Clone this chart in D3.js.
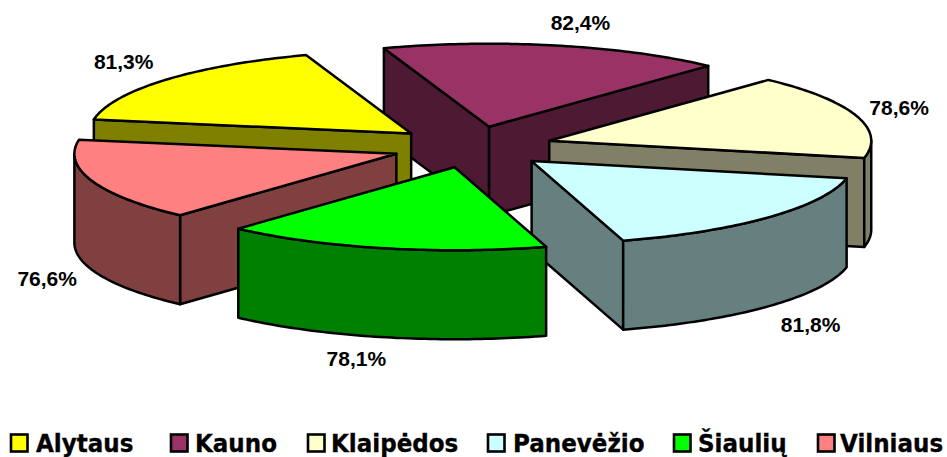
<!DOCTYPE html>
<html><head><meta charset="utf-8">
<script src="https://cdn.jsdelivr.net/npm/d3@7"></script>
<style>html,body{margin:0;padding:0;background:#fff;overflow:hidden}svg{display:block}</style>
</head><body><svg id="c" width="947" height="457"></svg>
<script>
const categories = ["Alytaus","Kauno","Klaipėdos","Panevėžio","Šiaulių","Vilniaus"];
const values = [81.3,82.4,78.6,81.8,78.1,76.6];
const valueLabels = ["81,3%","82,4%","78,6%","81,8%","78,1%","76,6%"];
const topColors = ["#FFFF00","#993366","#FFFFCC","#CCFFFF","#00FF00","#FF8080"];
const sideColors = ["#808000","#4D1933","#808066","#668080","#008000","#804040"];
const legendSwatchX = [10,170,307,487,673,817];
const legendTextX = [36,195,331,513,698,840];
const labelNudgeX = [-2,4,-2,3,-5,0];
const labelNudgeY = [0,2,2,-1,-3,-2];

const W=947,H=457, cx=472.5, cy=147, rx=322, ry=83, depth=89, explode=0.25, startDeg=-80.2;
const rad=Math.PI/180;
const sx=d3.scaleLinear().domain([-1,1]).range([-rx,rx]);
const sy=d3.scaleLinear().domain([-1,1]).range([-ry,ry]);
const svg=d3.select("#c");
const pie=d3.pie().sort(null).startAngle(startDeg*rad).endAngle((startDeg+360)*rad);
const arcs=pie(values).map((d,i)=>{
  const mid=(d.startAngle+d.endAngle)/2;
  return {...d,i,mid,ax:cx+sx(explode*Math.sin(mid)),ay:cy+sy(-explode*Math.cos(mid))};
});
const pt=(d,t,z=0)=>[d.ax+sx(Math.sin(t)),d.ay+sy(-Math.cos(t))+z];
const samples=(t0,t1)=>{const n=Math.max(2,Math.ceil((t1-t0)/rad));return d3.range(n+1).map(k=>t0+(t1-t0)*k/n);};
const line=d3.line();
const stroke={stroke:"#000","stroke-width":2.5,"stroke-linejoin":"round"};
function draw(p,fill){
  const e=svg.append("path").attr("d",line(p)+"Z").attr("fill",fill);
  Object.entries(stroke).forEach(([k,v])=>e.attr(k,v));
}
arcs.slice().sort((a,b)=>a.ay-b.ay).forEach(d=>{
  const c=sideColors[d.i], t0=d.startAngle,t1=d.endAngle, A=[d.ax,d.ay];
  const cut=t=>[A,pt(d,t),pt(d,t,depth),[d.ax,d.ay+depth]];
  if(Math.sin(t0)<0) draw(cut(t0),c);
  if(Math.sin(t1)>0) draw(cut(t1),c);
  const w0=Math.max(t0,Math.PI/2), w1=Math.min(t1,Math.PI*1.5);
  if(w1>w0){
    const s=samples(w0,w1);
    draw(s.map(t=>pt(d,t)).concat(s.slice().reverse().map(t=>pt(d,t,depth))),c);
  }
  draw([A].concat(samples(t0,t1).map(t=>pt(d,t))),topColors[d.i]);
});
// data labels
const spow=(v,p)=>Math.sign(v)*Math.pow(Math.abs(v),p);
svg.append("g").selectAll("text").data(arcs).join("text")
  .attr("font-family","'Liberation Sans',Arial,sans-serif").attr("font-weight","bold").attr("font-size",21)
  .attr("fill","#000").attr("text-anchor","middle").attr("dominant-baseline","central")
  .attr("x",d=>pt(d,d.mid)[0]+46*spow(Math.sin(d.mid),.5)+labelNudgeX[d.i])
  .attr("y",d=>pt(d,d.mid,Math.cos(d.mid)<0?depth:0)[1]-25*spow(Math.cos(d.mid),.75)+labelNudgeY[d.i])
  .text(d=>valueLabels[d.i]);
// legend
const lg=svg.append("g");
categories.forEach((n,i)=>{
  lg.append("rect").attr("x",legendSwatchX[i]+1).attr("y",434.5).attr("width",16.5).attr("height",17)
    .attr("fill",topColors[i]).attr("stroke","#000").attr("stroke-width",2.6);
  lg.append("text").attr("transform",`translate(${legendTextX[i]},452) scale(0.94,1)`)
    .attr("font-family","'DejaVu Sans',Verdana,sans-serif").attr("font-weight","bold").attr("font-size",24.5)
    .attr("fill","#000").attr("stroke","#000").attr("stroke-width",0.35).text(n);
});
</script></body></html>
